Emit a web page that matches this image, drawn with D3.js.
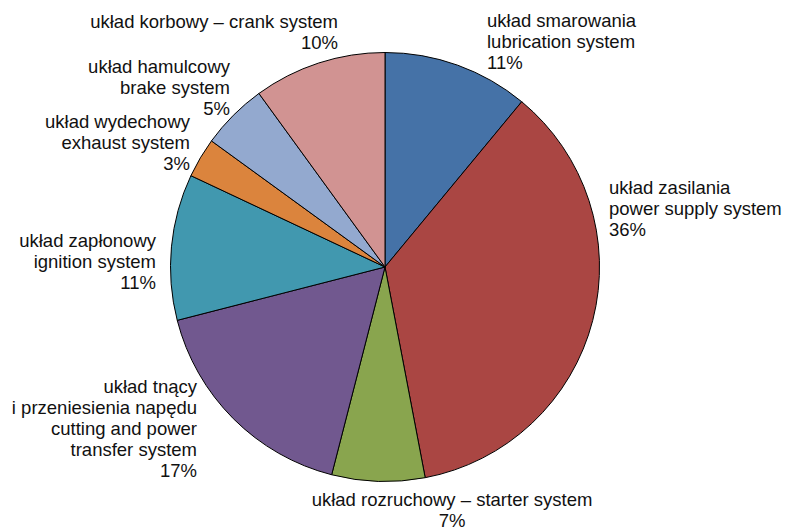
<!DOCTYPE html>
<html><head><meta charset="utf-8">
<script src="https://cdn.jsdelivr.net/npm/d3@7"></script>
<style>body{margin:0;background:#fff}svg{display:block}</style>
</head><body>
<svg id="c" width="786" height="530"></svg>
<script>
const categories = [
  ["układ smarowania", "lubrication system"],
  ["układ zasilania", "power supply system"],
  ["układ rozruchowy – starter system"],
  ["układ tnący", "i przeniesienia napędu", "cutting and power", "transfer system"],
  ["układ zapłonowy", "ignition system"],
  ["układ wydechowy", "exhaust system"],
  ["układ hamulcowy", "brake system"],
  ["układ korbowy – crank system"]
];
const values = [11, 36, 7, 17, 11, 3, 5, 10];
const colors = ["#4572A7", "#AA4643", "#89A54E", "#71588F", "#4198AF", "#DB843D", "#93A9CF", "#D19392"];
// label layout: anchor point (x, first baseline) and alignment
const labelLayout = [
  {x: 487, y: 27, a: "start"},
  {x: 609, y: 194, a: "start"},
  {x: 452, y: 506, a: "middle"},
  {x: 197, y: 393, a: "end"},
  {x: 156, y: 247, a: "end"},
  {x: 190, y: 128, a: "end"},
  {x: 230, y: 73, a: "end"},
  {x: 338, y: 28, a: "end"}
];

const svg = d3.select("#c");
const cx = 385, cy = 267, r = 214.5;
const total = d3.sum(values);
const pie = d3.pie().sort(null).value(d => d);
const arc = d3.arc().innerRadius(0).outerRadius(r);
const g = svg.append("g").attr("transform", `translate(${cx},${cy})`);
g.selectAll("path").data(pie(values)).join("path")
  .attr("d", arc)
  .attr("fill", (d, i) => colors[i])
  .attr("stroke", "#000").attr("stroke-width", 1).attr("stroke-linejoin", "round");

const fmt = v => Math.round(v / total * 100) + "%";
const lh = 21;
categories.forEach((lines, i) => {
  const L = labelLayout[i];
  const t = svg.append("text")
    .attr("x", L.x).attr("y", L.y)
    .attr("text-anchor", L.a)
    .attr("font-family", "'Liberation Sans', Arial, sans-serif")
    .attr("font-size", 18.5).attr("fill", "#111");
  [...lines, fmt(values[i])].forEach((s, k) => {
    t.append("tspan").attr("x", L.x).attr("dy", k === 0 ? 0 : lh).text(s);
  });
});
</script>
</body></html>
